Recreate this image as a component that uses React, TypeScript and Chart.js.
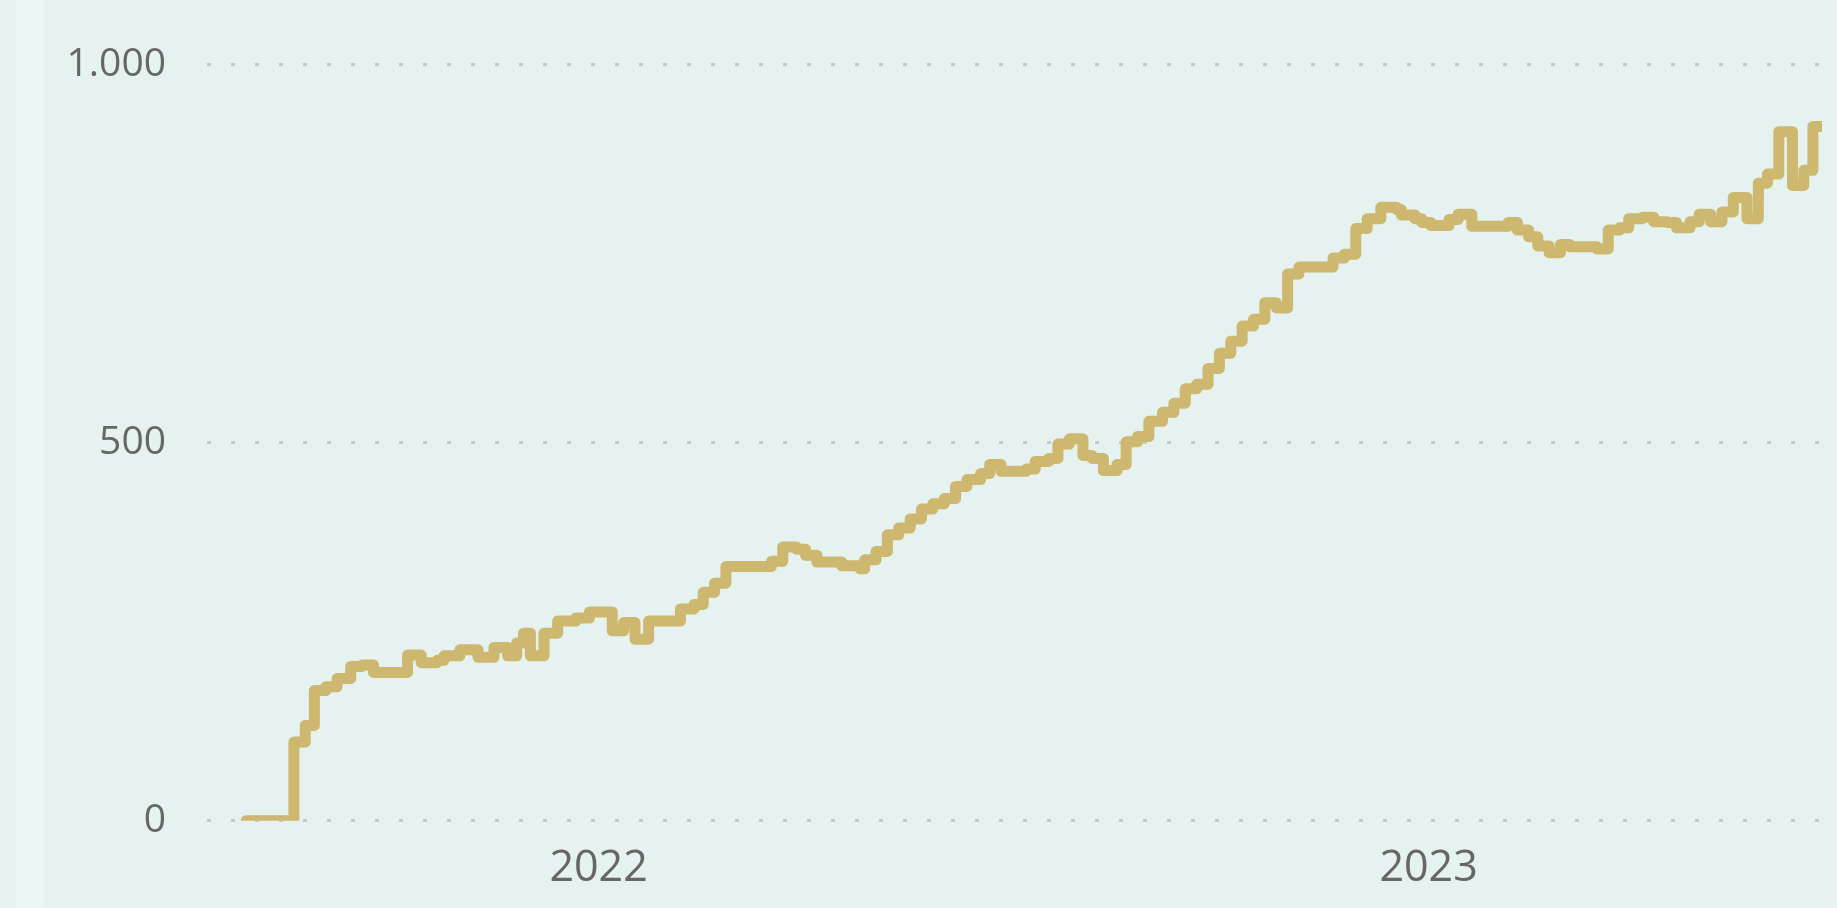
import { useEffect, useRef } from "react";
import { Chart, registerables } from "chart.js";

Chart.register(...registerables);

// x: days since 1 Jan 2021 at which the cumulative value changes
const dayIndex = [
  210, 231, 236, 240, 245, 250, 256, 261, 266, 281, 287, 294, 297, 304, 312, 319,
  325, 329, 332, 335, 341, 347, 355, 361, 371, 376, 381, 387, 401, 407, 411, 416,
  421, 441, 446, 452, 456, 461, 472, 480, 482, 487, 492, 497, 502, 507, 512, 517,
  522, 527, 533, 537, 542, 553, 557, 563, 567, 572, 578, 582, 587, 593, 597, 602,
  607, 613, 618, 623, 628, 633, 638, 643, 648, 653, 658, 663, 668, 673, 688, 693,
  698, 703, 709, 716, 718, 724, 727, 731, 739, 743, 749, 765, 769, 774, 778, 783,
  788, 792, 804, 809, 814, 818, 824, 829, 835, 839, 845, 849, 854, 859, 864, 870,
  875, 879, 884, 890, 895, 899, 903,
];

const cumulative = [
  0, 104, 126, 172, 177, 188, 204, 206, 196, 219, 209, 212, 218, 226, 216, 229,
  218, 235, 248, 218, 248, 264, 268, 276, 251, 262, 240, 264, 280, 286, 302, 314,
  336, 343, 362, 359, 351, 342, 337, 333, 345, 356, 378, 387, 399, 412, 419, 426,
  442, 451, 459, 471, 462, 465, 475, 479, 498, 505, 483, 479, 463, 471, 501, 508,
  528, 540, 552, 571, 577, 598, 618, 634, 654, 663, 685, 678, 723, 732, 744, 749,
  783, 796, 811, 808, 801, 796, 791, 787, 795, 802, 786, 791, 781, 772, 760, 751,
  762, 759, 756, 781, 784, 796, 798, 792, 791, 784, 792, 802, 792, 805, 824, 796,
  843, 855, 911, 840, 860, 918, 918,
];

const yTickValues = [0, 500, 1000];
const xTickDays = [365, 730];
const xTickLabels = ["2022", "2023"];
const X_MIN = 192.8;
const X_MAX = 903;

const fmt = (n: number) => String(n).replace(/\B(?=(\d{3})+(?!\d))/g, ".");

export default function App() {
  const ref = useRef<HTMLCanvasElement>(null);

  useEffect(() => {
    if (!ref.current) return;
    const chart = new Chart(ref.current, {
      type: "line",
      data: {
        datasets: [
          {
            data: dayIndex.map((d, i) => ({ x: d, y: cumulative[i] })),
            borderColor: "#ceb76e",
            borderWidth: 11,
            borderCapStyle: "round",
            borderJoinStyle: "round",
            pointRadius: 0,
            pointHoverRadius: 0,
            stepped: true,
            fill: false,
          },
        ],
      },
      options: {
        animation: false,
        responsive: false,
        maintainAspectRatio: false,
        layout: { padding: { left: 0, right: 15, top: 60, bottom: 0 } },
        plugins: { legend: { display: false }, tooltip: { enabled: false } },
        scales: {
          x: {
            type: "linear",
            min: X_MIN,
            max: X_MAX,
            afterBuildTicks: (s: any) => {
              s.ticks = xTickDays.map((v) => ({ value: v }));
            },
            afterFit: (s: any) => {
              s.height = 87.3;
            },
            ticks: {
              autoSkip: false,
              maxRotation: 0,
              padding: 22,
              color: "#666666",
              font: { family: "'Open Sans'", size: 43 },
              callback: (v: any) => {
                const i = xTickDays.indexOf(Number(v));
                return i >= 0 ? xTickLabels[i] : "";
              },
            },
            grid: { display: false, drawTicks: false },
            border: { display: false },
          },
          y: {
            min: 0,
            max: 1000,
            afterBuildTicks: (s: any) => {
              s.ticks = yTickValues.map((v) => ({ value: v }));
            },
            afterFit: (s: any) => {
              s.width = 207;
            },
            ticks: {
              padding: 41,
              color: "#666666",
              font: { family: "'Open Sans'", size: 39 },
              callback: (v: any) => fmt(Number(v)),
            },
            grid: { color: "#c8c8c8", lineWidth: 3, drawTicks: false },
            border: { display: false, dash: [4, 20] },
          },
        },
      },
    } as any);
    return () => chart.destroy();
  }, []);

  return (
    <div
      style={{
        position: "fixed",
        left: 0,
        top: 0,
        width: 1837,
        height: 908,
        background: "#e5f2ef",
        overflow: "hidden",
      }}
    >
      <div
        style={{
          position: "absolute",
          left: 16,
          top: 0,
          width: 28,
          height: 908,
          background: "#ecf6f4",
        }}
      />
      <canvas
        ref={ref}
        width={1837}
        height={908}
        style={{ position: "absolute", left: 0, top: 0, display: "block" }}
      />
    </div>
  );
}
